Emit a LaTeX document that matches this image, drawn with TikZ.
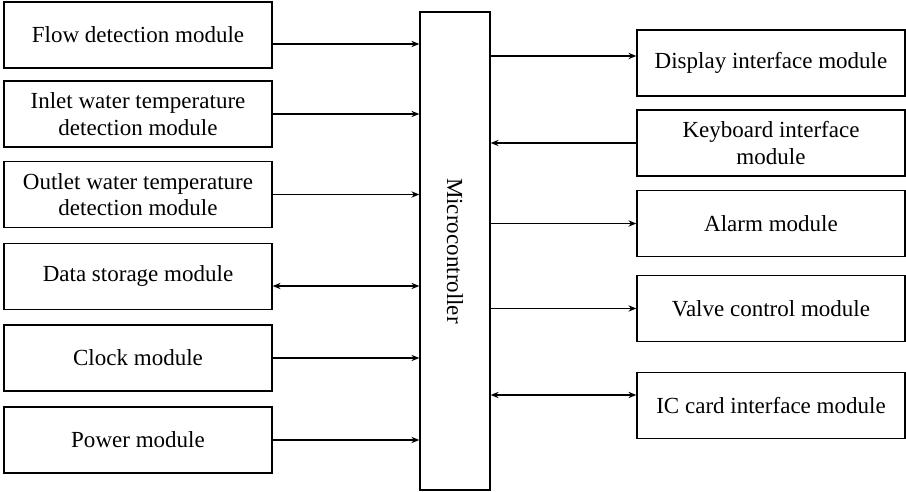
\documentclass[tikz,border=0pt]{standalone}
\usepackage{fontspec}
\setmainfont{Liberation Serif}
\usetikzlibrary{arrows.meta}

\tikzset{
  module/.style={draw,line width=0.8pt,minimum width=5.36cm,minimum height=1.32cm,
    align=center,font=\fontsize{13.1}{15}\selectfont},
}

\begin{document}
\begin{tikzpicture}[->,>={Stealth[length=4.5pt,width=3.6pt]},x=0.02cm,y=-0.02cm,line width=0.6pt]
  \useasboundingbox (0,0) rectangle (906,492);

  \node[draw,line width=0.8pt,minimum width=1.4cm,minimum height=9.56cm] (mcu) at (455,251) {};
  \node[rotate=-90,font=\fontsize{13.1}{15}\selectfont] at (mcu.center) {Microcontroller};

  \node[module] (flow) at (138,35) {Flow detection module};
  \node[module] (inlet) at (138,114) {Inlet water temperature\\detection module};
  \node[module] (outlet) at (138,194.5) {Outlet water temperature\\detection module};
  \node[module] (store) at (138,276.5) {Data storage module};
  \node[module] (clock) at (138,358) {Clock module};
  \node[module] (power) at (138,440) {Power module};

  \node[module] (disp) at (771,63) {Display interface module};
  \node[module] (keyb) at (771,143) {Keyboard interface\\module};
  \node[module] (alarm) at (771,223.5) {Alarm module};
  \node[module] (valve) at (771,308.5) {Valve control module};
  \node[module] (card) at (771,405.5) {IC card interface module};

  \path ([yshift=-0.18cm]flow.east) edge ([yshift=-0.18cm]flow.east -| mcu.west)
        (inlet.east) edge (inlet.east -| mcu.west)
        (outlet.east) edge (outlet.east -| mcu.west)
        ([yshift=-0.19cm]store.east) edge[<->] ([yshift=-0.19cm]store.east -| mcu.west)
        (clock.east) edge (clock.east -| mcu.west)
        (power.east) edge (power.east -| mcu.west);

  \path ([yshift=0.14cm]disp.west -| mcu.east) edge ([yshift=0.14cm]disp.west)
        (keyb.west) edge (keyb.west -| mcu.east)
        (alarm.west -| mcu.east) edge (alarm.west)
        (valve.west -| mcu.east) edge (valve.west)
        ([yshift=0.21cm]card.west -| mcu.east) edge[<->] ([yshift=0.21cm]card.west);
\end{tikzpicture}
\end{document}
